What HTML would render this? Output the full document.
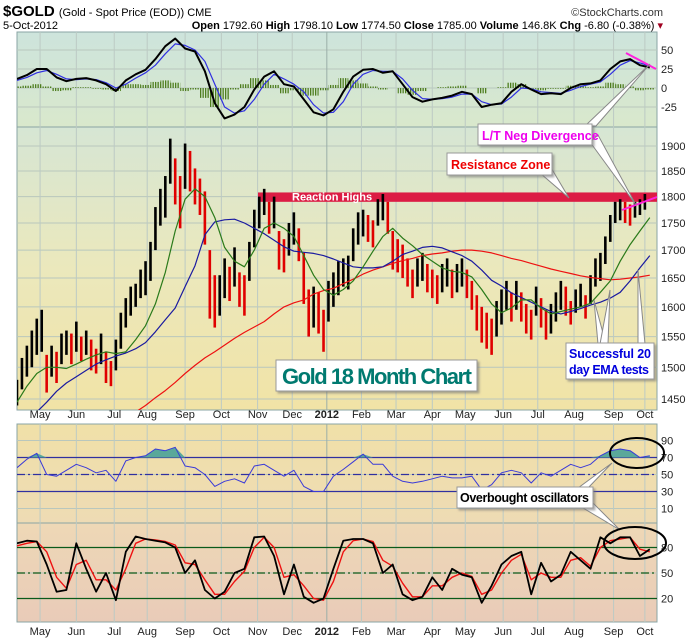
<!DOCTYPE html>
<html><head><meta charset="utf-8"><style>
body{margin:0;background:#fff;font-family:"Liberation Sans",sans-serif;}
svg text{font-family:"Liberation Sans",sans-serif;}
</style></head><body>
<svg id="c" width="700" height="639" viewBox="0 0 700 639" xmlns="http://www.w3.org/2000/svg" style="position:absolute;left:0;top:0">
<defs>
<linearGradient id="gTop" x1="0" y1="0" x2="0" y2="1"><stop offset="0" stop-color="#cde4dc"/><stop offset="1" stop-color="#d9e8cc"/></linearGradient>
<linearGradient id="gMain" x1="0" y1="0" x2="0" y2="1"><stop offset="0" stop-color="#d6e6d4"/><stop offset="0.5" stop-color="#ebe8bc"/><stop offset="1" stop-color="#f1e3a6"/></linearGradient>
<linearGradient id="gRsi" x1="0" y1="0" x2="0" y2="1"><stop offset="0" stop-color="#f0e0a8"/><stop offset="1" stop-color="#eedbb4"/></linearGradient>
<linearGradient id="gSto" x1="0" y1="0" x2="0" y2="1"><stop offset="0" stop-color="#eed8b6"/><stop offset="1" stop-color="#e9cbb8"/></linearGradient>
<pattern id="stripes" width="2.5" height="10" patternUnits="userSpaceOnUse"><rect x="0" y="0" width="1.3" height="10" fill="#4e7d1e"/></pattern>
<clipPath id="cTop"><rect x="17" y="32" width="640" height="95"/></clipPath>
<clipPath id="cMain"><rect x="17" y="127" width="640" height="283"/></clipPath>
<clipPath id="cRsi"><rect x="17" y="424" width="640" height="99"/></clipPath>
<clipPath id="cSto"><rect x="17" y="523" width="640" height="99"/></clipPath>
<filter id="sh" x="-10%" y="-10%" width="130%" height="140%"><feDropShadow dx="2" dy="2" stdDeviation="1" flood-color="#777" flood-opacity="0.6"/></filter>
</defs>
<text x="3" y="16" font-size="15" font-weight="bold" fill="#000">$GOLD <tspan font-size="11" font-weight="normal">(Gold - Spot Price (EOD)) CME</tspan></text>
<text x="663" y="16" font-size="11" text-anchor="end" fill="#333">©StockCharts.com</text>
<text x="3" y="29" font-size="11" fill="#000">5-Oct-2012</text>
<text x="663" y="29" font-size="11" text-anchor="end" fill="#000"><tspan font-weight="bold">Open</tspan> 1792.60 <tspan font-weight="bold">High</tspan> 1798.10 <tspan font-weight="bold">Low</tspan> 1774.50 <tspan font-weight="bold">Close</tspan> 1785.00 <tspan font-weight="bold">Volume</tspan> 146.8K <tspan font-weight="bold">Chg</tspan> -6.80 (-0.38%) <tspan fill="#a00020">▾</tspan></text>
<rect x="17" y="32" width="640" height="95" fill="url(#gTop)" stroke="#8aa4a4"/>
<rect x="17" y="127" width="640" height="283" fill="url(#gMain)" stroke="#8aa4a4"/>
<rect x="17" y="424" width="640" height="99" fill="url(#gRsi)" stroke="#8aa4a4"/>
<rect x="17" y="523" width="640" height="99" fill="url(#gSto)" stroke="#8aa4a4"/>
<g id="grid"></g>
<g id="marks"></g>
</svg>
<script>
// ---- data ----
const monthLabels = ["May","Jun","Jul","Aug","Sep","Oct","Nov","Dec","2012","Feb","Mar","Apr","May","Jun","Jul","Aug","Sep","Oct"];
const monthDays = [14,36,59,79,102,124,146,167,188,209,230,252,272,295,316,338,362,381];
const priceTicks = [1450,1500,1550,1600,1650,1700,1750,1800,1850,1900];
const macdTicks = [50,25,0,-25];
const rsiTicks = [90,70,50,30,10];
const stochTicks = [80,50,20];
// closes sampled every 3 trading days
const closes = [1460,1490,1510,1530,1550,1560,1490,1510,1500,1530,1540,1530,1550,1530,1540,1520,1510,1530,1500,1490,1520,1560,1590,1610,1620,1640,1650,1680,1740,1780,1800,1870,1830,1790,1860,1850,1820,1800,1760,1640,1610,1620,1650,1640,1670,1630,1620,1680,1740,1770,1790,1760,1770,1700,1690,1720,1740,1710,1650,1590,1600,1590,1560,1610,1630,1650,1660,1660,1710,1740,1750,1740,1730,1770,1780,1760,1700,1690,1680,1660,1640,1660,1670,1650,1640,1630,1650,1660,1640,1650,1660,1640,1620,1590,1570,1560,1550,1580,1600,1620,1600,1620,1600,1580,1570,1610,1590,1570,1580,1600,1620,1610,1590,1610,1620,1600,1630,1660,1670,1700,1740,1770,1775,1770,1765,1775,1780,1790];
const spreads = [20,25,25,30,30,35,30,25,25,25,20,25,25,20,20,25,20,25,25,20,25,30,25,25,20,25,30,35,40,35,40,45,45,50,45,40,35,35,50,60,45,35,35,30,35,30,35,35,35,30,25,30,30,35,30,30,30,30,45,40,35,35,35,35,30,30,25,30,30,30,25,25,25,25,25,30,35,30,30,25,25,25,25,25,25,25,25,25,25,25,25,25,25,30,30,30,30,30,30,25,25,25,25,25,25,25,25,25,25,25,25,25,20,20,20,20,25,25,25,25,25,20,20,20,20,15,15,15];
// indicator series sampled every 6 trading days
const ema20 = [1445,1470,1490,1500,1500,1498,1505,1513,1520,1525,1522,1525,1545,1568,1605,1660,1735,1795,1815,1800,1760,1705,1680,1670,1700,1740,1750,1740,1725,1690,1655,1630,1620,1630,1645,1670,1698,1725,1740,1722,1708,1692,1680,1668,1662,1660,1652,1630,1605,1590,1598,1612,1612,1598,1588,1592,1596,1600,1606,1625,1645,1680,1710,1735,1760];
const sma50 = [null,null,1430,1445,1462,1475,1485,1495,1505,1512,1518,1523,1530,1540,1558,1578,1598,1635,1672,1728,1752,1756,1757,1750,1740,1730,1718,1706,1698,1696,1694,1690,1684,1677,1670,1668,1668,1670,1680,1692,1698,1705,1707,1704,1697,1690,1680,1664,1646,1636,1624,1616,1608,1600,1592,1588,1592,1597,1603,1608,1615,1625,1645,1668,1690];
const sma200 = [null,null,null,null,null,null,null,null,null,null,null,null,1430,1440,1452,1463,1476,1490,1503,1515,1525,1536,1547,1557,1566,1575,1588,1600,1607,1612,1622,1628,1632,1640,1648,1657,1664,1670,1676,1681,1685,1690,1693,1695,1698,1700,1700,1698,1695,1690,1685,1681,1676,1671,1666,1662,1658,1654,1651,1649,1647,1648,1650,1652,1655];
const macdLine = [12,17,25,25,14,9,12,13,10,5,-4,10,18,24,38,55,65,52,48,22,-20,-40,-35,-25,-2,15,22,5,2,-15,-32,-36,-28,-5,15,24,25,20,22,5,-12,-18,-15,-13,-10,-5,-8,-25,-22,-20,-5,5,-2,-8,-7,-8,0,5,6,10,25,35,38,30,27];
const macdSignal = [10,14,20,23,18,12,11,12,11,7,0,5,13,20,30,45,58,56,50,35,5,-25,-33,-30,-15,5,18,12,5,-5,-22,-33,-32,-18,5,18,23,22,22,12,-3,-14,-15,-14,-12,-8,-8,-18,-22,-21,-12,0,-1,-5,-6,-7,-3,2,5,8,18,30,36,33,29];
const rsiValues = [58,68,75,50,48,55,62,58,52,55,42,66,70,72,80,78,82,60,58,50,36,42,45,40,60,62,55,48,55,36,30,30,48,56,65,74,62,62,48,42,40,42,45,48,46,46,48,32,38,52,55,52,40,52,48,55,62,58,62,72,78,80,78,70,72];
const stochK = [85,88,87,60,28,30,85,55,28,50,18,75,93,90,88,86,80,50,65,30,20,28,50,55,92,93,70,25,60,22,15,20,55,88,90,90,85,50,60,25,18,22,45,30,55,48,45,15,35,60,70,75,25,62,40,48,75,65,55,92,85,92,92,70,78];
const stochD = [82,85,87,75,45,32,60,65,42,42,30,55,85,90,89,87,83,62,60,42,25,25,40,52,80,92,80,45,48,35,20,18,40,75,88,90,87,65,58,38,22,22,35,35,45,50,46,25,30,50,65,72,42,50,45,45,65,68,58,80,88,90,92,78,75];

// ---- scales ----
const X0=17, DAYPX=1.648;
const xDay = d => X0 + d*DAYPX;
const xClose = i => xDay(i*3);
const xInd = j => xDay(j*6);
const L1900=Math.log(1900);
const yMain = p => 146 + (L1900-Math.log(p))*936;
const yMacd = v => 88 - v*0.76;
const yRsi = v => 474.5 - (v-50)*0.85;
const yStoch = v => 573 - (v-50)*0.85;

const NS="http://www.w3.org/2000/svg";
function mk(tag, attrs, parent){const e=document.createElementNS(NS,tag);for(const k in attrs)e.setAttribute(k,attrs[k]);parent.appendChild(e);return e;}
const grid=document.getElementById('grid'), marks=document.getElementById('marks');

function hgrid(vals, yf, name){vals.forEach(v=>{const y=yf(v);
  const l=mk('line',{x1:17,x2:657,y1:y,y2:y,stroke:'#b9c7bd','stroke-width':1},grid);
  
  
  const t=mk('text',{x:661,y:y+4,'font-size':11,fill:'#222'},grid); t.textContent=v;
  
  
});}
hgrid(priceTicks,yMain,'price'); hgrid(macdTicks,yMacd,'macd'); hgrid(rsiTicks,yRsi,'rsi'); hgrid(stochTicks,yStoch,'stoch');
monthDays.forEach((d,k)=>{const x=xDay(d);
  [[32,127],[127,410],[424,622]].forEach(r=>{
    const l=mk('line',{x1:x,x2:x,y1:r[0],y2:r[1],stroke:monthLabels[k]==='2012'?'#9aaea8':'#bccac4','stroke-width':1},grid);
    
    
  });
  [418,635].forEach(y=>{const t=mk('text',{x:x,y:y,'font-size':11,'text-anchor':'middle',fill:'#222','font-weight':monthLabels[k]==='2012'?'bold':'normal'},grid);
    t.textContent=monthLabels[k];
    
    });
});
[[yRsi(70),'#3030a0',''],[yRsi(30),'#3030a0',''],[yRsi(50),'#3030a0','8 3 2 3'],[yStoch(80),'#0a5a1a',''],[yStoch(20),'#0a5a1a',''],[yStoch(50),'#0a5a1a','8 3 2 3']].forEach(a=>{
  const l=mk('line',{x1:17,x2:657,y1:a[0],y2:a[0],stroke:a[1],'stroke-width':1.2,'stroke-dasharray':a[2]},grid);
  
  
});

const band=mk('rect',{x:258,y:yMain(1808),width:399,height:yMain(1790)-yMain(1808),fill:'#dc1c44'},marks);


const bt=mk('text',{x:292,y:yMain(1791)-1,'font-size':11,'font-weight':'bold',fill:'#fff'},marks); bt.textContent='Reaction Highs';



function poly(arr, xf, yf, color, w, clip, name){
  let d='';arr.forEach((v,i)=>{if(v===null)return;d+=(d?'L':'M')+xf(i).toFixed(1)+' '+yf(v).toFixed(1);});
  const p=mk('path',{d:d,fill:'none',stroke:color,'stroke-width':w,'clip-path':'url(#'+clip+')','stroke-linejoin':'round'},marks);
  
  
}
closes.forEach((c,i)=>{
  const down = i>0 && c<closes[i-1];
  const b=mk('line',{x1:xClose(i),x2:xClose(i),y1:yMain(c+spreads[i]),y2:yMain(c-spreads[i]),stroke:down?'#e00000':'#000','stroke-width':2.6,'clip-path':'url(#cMain)'},marks);
  
  
});
poly(sma200,xInd,yMain,'#ee1111',1.2,'cMain','sma-200-line');
poly(sma50,xInd,yMain,'#1a1aa0',1.2,'cMain','sma-50-line');
poly(ema20,xInd,yMain,'#2a7a1a',1.2,'cMain','ema-20-line');

macdLine.forEach((v,j)=>{const h=v-macdSignal[j];
  const r=mk('rect',{x:xInd(j)-4.9,y:Math.min(yMacd(h),yMacd(0)),width:9.9,height:Math.abs(yMacd(h)-yMacd(0)),fill:'url(#stripes)','clip-path':'url(#cTop)'},marks);
  
  
});
poly(macdSignal,xInd,yMacd,'#3030e0',1.2,'cTop','macd-signal-line');
poly(macdLine,xInd,yMacd,'#000',2,'cTop','macd-line');

(function(){let d='';rsiValues.forEach((v,j)=>{d+=(j?'L':'M')+xInd(j).toFixed(1)+' '+Math.min(yRsi(v),yRsi(70)).toFixed(1);});
  d+='L'+xInd(rsiValues.length-1)+' '+yRsi(70)+'L'+xInd(0)+' '+yRsi(70)+'Z';
  const f=mk('path',{d:d,fill:'#5aa89a','clip-path':'url(#cRsi)'},marks);
  
  })();
poly(rsiValues,xInd,yRsi,'#3a3ad8',1,'cRsi','rsi-line');
poly(stochD,xInd,yStoch,'#ee1111',1.4,'cSto','stoch-d-line');
poly(stochK,xInd,yStoch,'#000',1.8,'cSto','stoch-k-line');
</script>
<svg style="position:absolute;left:0;top:0" width="700" height="639">
<line x1="626" y1="53" x2="656" y2="69" stroke="#ff22dd" stroke-width="2"/>
<line x1="622" y1="210" x2="657" y2="197" stroke="#ff22dd" stroke-width="2"/>
<polygon points="585,126 596,126 650,64" fill="#fff" stroke="#888"/>
<polygon points="590,142 598,135 636,205" fill="#fff" stroke="#888"/>
<polygon points="540,173 550,166 569,198" fill="#fff" stroke="#888"/>
<polygon points="598,344 606,344 594,300" fill="#fff" stroke="#888"/>
<polygon points="600,344 608,344 610,290" fill="#fff" stroke="#888"/>
<polygon points="638,344 645,344 638,270" fill="#fff" stroke="#888"/>
<polygon points="578,488 588,488 612,463" fill="#fff" stroke="#888"/>
<polygon points="578,505 588,498 620,530" fill="#fff" stroke="#888"/>
<g filter="url(#sh)">
<rect x="478" y="124" width="114" height="21" fill="#fff" stroke="#999"/>
<rect x="447" y="153" width="105" height="22" fill="#fff" stroke="#999"/>
<rect x="566" y="343" width="88" height="36" fill="#fff" stroke="#999"/>
<rect x="276" y="360" width="201" height="31" fill="#fff" stroke="#999"/>
<rect x="457" y="487" width="136" height="21" fill="#fff" stroke="#999"/>
</g>
<text x="482" y="140" font-size="12.5" font-weight="bold" fill="#ee00ee" font-family="Liberation Sans, sans-serif">L/T Neg Divergence</text>
<text x="451" y="169" font-size="12.5" font-weight="bold" fill="#ee0000" font-family="Liberation Sans, sans-serif">Resistance Zone</text>
<text x="569" y="358" font-size="12.5" font-weight="bold" fill="#0000dd" font-family="Liberation Sans, sans-serif" textLength="82">Successful 20</text>
<text x="569" y="374" font-size="12.5" font-weight="bold" fill="#0000dd" font-family="Liberation Sans, sans-serif" textLength="80">day EMA tests</text>
<text x="282" y="384" font-size="22" font-weight="bold" fill="#007a70" font-family="Liberation Sans, sans-serif" textLength="190">Gold 18 Month Chart</text>
<text x="460" y="502" font-size="12.5" font-weight="bold" fill="#000" font-family="Liberation Sans, sans-serif" textLength="129">Overbought oscillators</text>
<ellipse cx="637" cy="453" rx="27" ry="15" fill="none" stroke="#000" stroke-width="2"/>
<ellipse cx="635" cy="543" rx="31" ry="16" fill="none" stroke="#000" stroke-width="2"/>
</svg>
</body></html>
